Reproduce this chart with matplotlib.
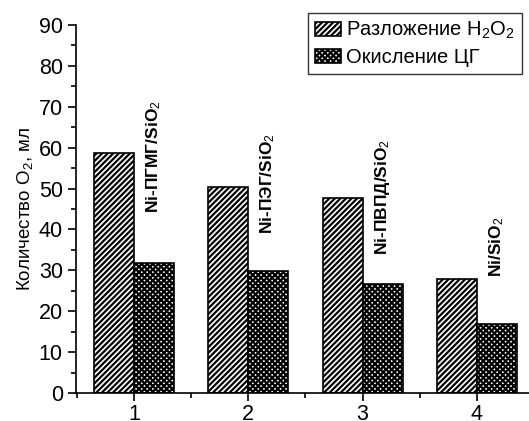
import matplotlib
matplotlib.use("Agg")
import matplotlib.pyplot as plt
from matplotlib.ticker import MultipleLocator

plt.rcParams['font.family'] = ['Liberation Sans', 'DejaVu Sans']
plt.rcParams['mathtext.fontset'] = 'custom'
plt.rcParams['mathtext.rm'] = 'Liberation Sans'
plt.rcParams['mathtext.it'] = 'Liberation Sans'
plt.rcParams['hatch.linewidth'] = 1.6

categories = [1, 2, 3, 4]
decomposition = [58.7, 50.4, 47.8, 28.0]
oxidation = [31.8, 29.8, 26.6, 16.8]
catalysts = ['Ni-ПГМГ/SiO$_2$', 'Ni-ПЭГ/SiO$_2$', 'Ni-ПВПД/SiO$_2$', 'Ni/SiO$_2$']
label_bottoms = [44, 39, 33.7, 28.4]
series_names = ['Разложение H$_2$O$_2$', 'Окисление ЦГ']

W, H = 529, 421
fig = plt.figure(figsize=(W/100, H/100), dpi=100)
ax = fig.add_axes([76/W, 28/H, (W-76)/W, 368/H])

bw = 0.35
x = [c - bw/2 for c in categories]
x2 = [c + bw/2 for c in categories]
ax.bar(x, decomposition, width=bw, facecolor='white', edgecolor='black',
       hatch='//////', linewidth=1.2, label=series_names[0])
ax.bar(x2, oxidation, width=bw, facecolor='white', edgecolor='black',
       hatch='xxxxxx', linewidth=1.2, label=series_names[1])

for c, lab, yb in zip(categories, catalysts, label_bottoms):
    ax.text(c + 0.17, yb, lab, rotation=90, ha='center', va='bottom',
            fontsize=12.5, fontweight='bold')

ax.set_xlim(0.493, 4.455)
ax.set_ylim(0, 90)
ax.set_xticks(categories)
ax.xaxis.set_minor_locator(MultipleLocator(0.5))
ax.yaxis.set_major_locator(MultipleLocator(10))
ax.yaxis.set_minor_locator(MultipleLocator(5))
ax.tick_params(axis='both', which='major', direction='out', length=6, width=1.2, labelsize=15.5)
ax.tick_params(axis='x', which='major', pad=2)
ax.tick_params(axis='both', which='minor', direction='out', length=3.5, width=1.2)
ax.spines['top'].set_visible(False)
ax.spines['right'].set_visible(False)
ax.spines['left'].set_linewidth(1.2)
ax.spines['bottom'].set_linewidth(1.2)
ax.set_ylabel('Количество O$_2$, мл', fontsize=13.5, labelpad=3)

leg = ax.legend(loc='upper right', bbox_to_anchor=(522/W, 1 - 13/H), bbox_transform=fig.transFigure,
                fontsize=14.5, frameon=True, fancybox=False, edgecolor='black',
                handlelength=1.3, handleheight=0.7, borderpad=0.35, labelspacing=0.35,
                handletextpad=0.25, borderaxespad=0)
leg.get_frame().set_linewidth(1.0)

fig.savefig('out.png', dpi=100)
